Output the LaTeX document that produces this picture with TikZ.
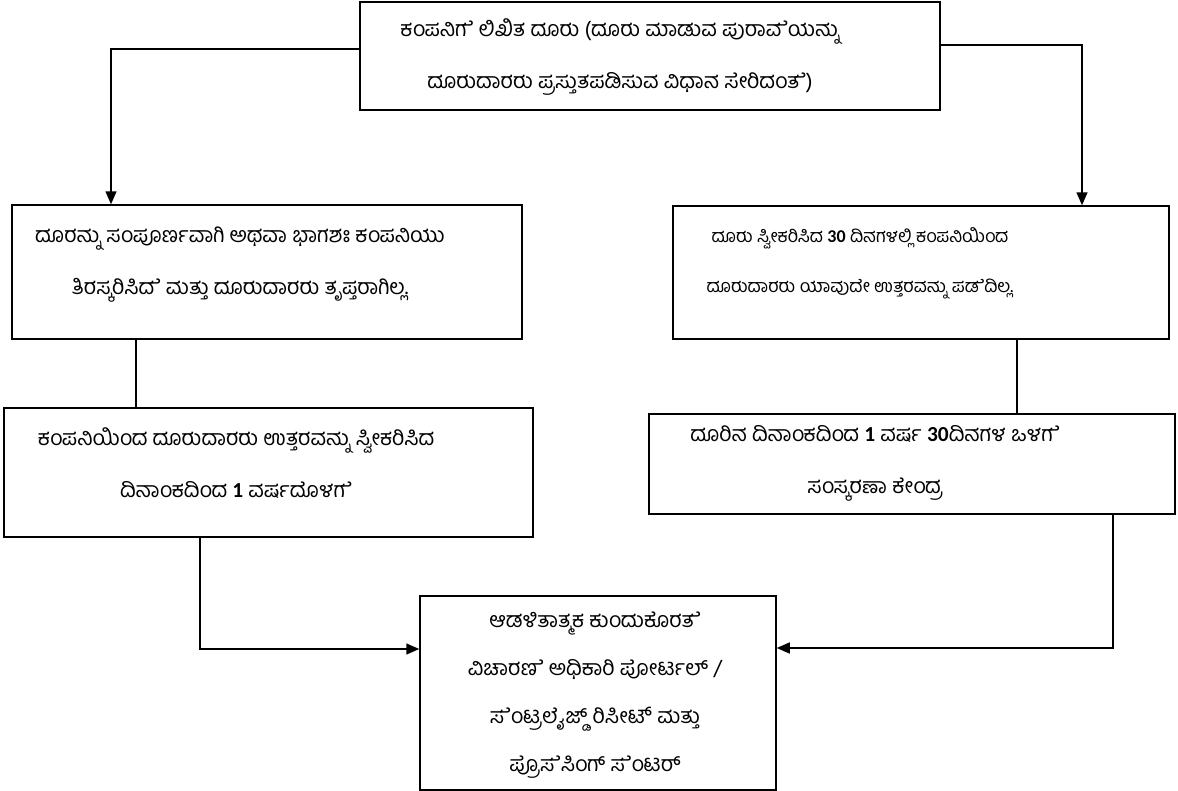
\documentclass[tikz,border=0pt]{standalone}
\usepackage{fontspec}
\newfontfamily\kn[Script=Kannada]{Hind Mysuru}
\newfontfamily\calb{Carlito}
\usetikzlibrary{arrows.meta}
\newcommand{\dg}[1]{{\calb\bfseries #1}}
\newcommand{\E}{\char"200Dೆ}
\begin{document}
\begin{tikzpicture}[x=1pt,y=-1pt,
  boxst/.style={draw,line width=1.5pt,rectangle,inner sep=0pt},
  txt/.style={align=center,inner sep=0pt,font=\kn\fontsize{21.4}{52}\selectfont},
  conn/.style={line width=1.5pt},
  arr/.style={line width=1.5pt,-{Triangle[length=13pt,width=11pt]}}]
\useasboundingbox (0,0) rectangle (1178,790);
% boxes
\node[boxst,minimum width=580pt,minimum height=108pt] (top) at (650,56) {};
\node[boxst,minimum width=510pt,minimum height=134pt] (l2) at (267,272) {};
\node[boxst,minimum width=496pt,minimum height=133pt] (r2) at (921,272.5) {};
\node[boxst,minimum width=529pt,minimum height=129pt] (l3) at (268.5,472.5) {};
\node[boxst,minimum width=526pt,minimum height=100pt] (r3) at (912,464) {};
\node[boxst,minimum width=356pt,minimum height=194pt] (bot) at (598,693) {};
% texts
\node[txt] (ttop) at (620,57) {ಕಂಪನಿಗ\E{} ಲಿಖಿತ ದೂರು (ದೂರು ಮಾಡುವ ಪುರಾವ\E{}ಯನ್ನು\\ದೂರುದಾರರು ಪ್ರಸ್ತುತಪಡಿಸುವ ವಿಧಾನ ಸೇರಿದಂತ\E{})};
\node[txt] (tl2) at (240,265) {ದೂರನ್ನು ಸಂಪೂರ್ಣವಾಗಿ ಅಥವಾ ಭಾಗಶಃ ಕಂಪನಿಯು\\ತಿರಸ್ಕರಿಸಿದ\E{} ಮತ್ತು ದೂರುದಾರರು ತೃಪ್ತರಾಗಿಲ್ಲ.};
\node[txt,font=\kn\fontsize{18}{50}\selectfont] (tr2) at (860,263) {ದೂರು ಸ್ವೀಕರಿಸಿದ \dg{30} ದಿನಗಳಲ್ಲಿ ಕಂಪನಿಯಿಂದ\\ದೂರುದಾರರು ಯಾವುದೇ ಉತ್ತರವನ್ನು ಪಡ\E{}ದಿಲ್ಲ.};
\node[txt] (tl3) at (236,463) {ಕಂಪನಿಯಿಂದ ದೂರುದಾರರು ಉತ್ತರವನ್ನು ಸ್ವೀಕರಿಸಿದ\\ದಿನಾಂಕದಿಂದ \dg{1} ವರ್ಷದೊಳಗ\E{}};
\node[txt] (tr3) at (875,463) {ದೂರಿನ ದಿನಾಂಕದಿಂದ \dg{1} ವರ್ಷ \dg{30}ದಿನಗಳ ಒಳಗ\E{}\\ಸಂಸ್ಕರಣಾ ಕೇಂದ್ರ};
\node[txt,font=\kn\fontsize{21.4}{48}\selectfont] (tbot) at (595,695) {ಆಡಳಿತಾತ್ಮಕ ಕುಂದುಕೊರತ\E{}\\ವಿಚಾರಣ\E{} ಅಧಿಕಾರಿ ಪೋರ್ಟಲ್ /\\ಸ\E{}ಂಟ್ರಲೈಜ್ಡ್ ರಿಸೀಟ್ ಮತ್ತು\\ಪ್ರೊಸ\E{}ಸಿಂಗ್ ಸ\E{}ಂಟರ್};
% connector points
\coordinate (ca) at (111,49);
\coordinate (cb) at (1082,45);
\coordinate (cc) at (200,649);
\coordinate (cd) at (1113,648);
\draw[arr] (top.west |- ca) -- (ca) -- (ca |- l2.north);
\draw[arr] (top.east |- cb) -- (cb) -- (cb |- r2.north);
\draw[conn] (l2.south -| 136,0) -- (l3.north -| 136,0);
\draw[conn] (r2.south -| 1017,0) -- (r3.north -| 1017,0);
\draw[arr] (l3.south -| cc) -- (cc) -- (cc -| bot.west);
\draw[arr] (r3.south -| cd) -- (cd) -- (cd -| bot.east);
\end{tikzpicture}
\end{document}
